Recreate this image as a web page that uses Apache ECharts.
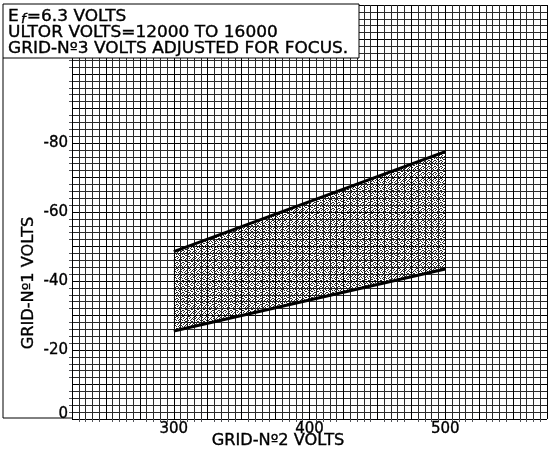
<!DOCTYPE html>
<html>
<head>
<meta charset="utf-8">
<script src="https://cdn.jsdelivr.net/npm/echarts@6/dist/echarts.min.js"></script>
<style>html,body{margin:0;padding:0;background:#fff}#c{width:550px;height:449px}</style>
</head>
<body>
<div id="c"></div>
<script>
// ---- data ----
const xTickLabels = [300, 400, 500];
const yTickLabels = [0, -20, -40, -60, -80];
const grid2Volts = [300, 500];
const upperLimit = [-48.5, -77.5];
const lowerLimit = [-25.5, -43.5];
const noteLines = ['ULTOR VOLTS=12000 TO 16000', 'GRID-Nº3 VOLTS ADJUSTED FOR FOCUS.'];
const xTitle = 'GRID-Nº2 VOLTS';
const yTitle = 'GRID-Nº1 VOLTS';

const FONT = '"DejaVu Sans", sans-serif';
const SW = 0.35;

// stipple pattern
const pat = document.createElement('canvas');
pat.width = 6; pat.height = 6;
(function(){
  const g = pat.getContext('2d');
  g.fillStyle = 'rgba(0,0,0,0.85)';
  const dots = [[0,0],[3,0],[1,1],[4,2],[2,2],[0,3],[5,3],[3,4],[1,5],[4,5],[2,4],[5,1]];
  dots.forEach(d => g.fillRect(d[0], d[1], 1, 1));
})();

const chart = echarts.init(document.getElementById('c'), null, {renderer: 'canvas'});

const axisCommon = {
  axisLine: {show: false},
  axisTick: {show: false},
  splitLine: {show: true, lineStyle: {color: '#000', width: 1}},
  minorTick: {show: true, splitNumber: 5},
  minorSplitLine: {show: true, lineStyle: {color: '#2a2a2a', width: 1}}
};

const txt = (t, x, y) => ({
  type: 'text', z: 51, x: x, y: y, scaleX: 1.13,
  style: {text: t, fontSize: 15, fontFamily: FONT, fill: '#000', stroke: '#000', lineWidth: SW, verticalAlign: 'middle'}
});

chart.setOption({
  animation: false,
  backgroundColor: '#fff',
  grid: {left: 72, right: 0, top: 5, bottom: 30, containLabel: false},
  xAxis: Object.assign({
    type: 'value', min: 225, max: 575, interval: 25,
    axisLabel: {
      margin: 3, color: '#000', fontSize: 15, fontFamily: FONT, textBorderColor: '#000', textBorderWidth: SW,
      formatter: v => xTickLabels.indexOf(v) >= 0 ? String(v) : ''
    }
  }, axisCommon),
  yAxis: Object.assign({
    type: 'value', min: -120, max: 0, interval: 10, inverse: true,
    axisLabel: {
      margin: 4, color: '#000', fontSize: 15, fontFamily: FONT, textBorderColor: '#000', textBorderWidth: SW,
      formatter: v => yTickLabels.indexOf(v) < 0 ? '' : (v === 0 ? '{z|0}' : String(v)),
      rich: {z: {fontSize: 15, fontFamily: FONT, color: '#000', textBorderColor: '#000', textBorderWidth: SW, padding: [0, 0, 10, 0]}}
    }
  }, axisCommon),
  series: [
    {
      type: 'custom',
      renderItem: function (params, api) {
        const pts = [];
        for (let i = 0; i < grid2Volts.length; i++) pts.push(api.coord([grid2Volts[i], upperLimit[i]]));
        for (let i = grid2Volts.length - 1; i >= 0; i--) pts.push(api.coord([grid2Volts[i], lowerLimit[i]]));
        return {type: 'polygon', shape: {points: pts}, style: {fill: {image: pat, repeat: 'repeat'}}};
      },
      data: [[grid2Volts[0], upperLimit[0]]],
      z: 3
    },
    {
      type: 'line', symbol: 'none', z: 5,
      data: grid2Volts.map((v, i) => [v, upperLimit[i]]),
      lineStyle: {color: '#000', width: 3}
    },
    {
      type: 'line', symbol: 'none', z: 5,
      data: grid2Volts.map((v, i) => [v, lowerLimit[i]]),
      lineStyle: {color: '#000', width: 3}
    }
  ],
  graphic: [
    {type: 'rect', z: 50, shape: {x: 3, y: 4, width: 356, height: 54}, style: {fill: '#fff', stroke: '#000', lineWidth: 1}},
    {type: 'polyline', z: 50, shape: {points: [[3, 58], [3, 418], [72, 418]]}, style: {fill: null, stroke: '#000', lineWidth: 1}},
    {type: 'text', z: 51, x: 8, y: 17, scaleX: 1.13, style: {
      text: '{a|E}{b|f}{a|=6.3 VOLTS}', verticalAlign: 'middle',
      rich: {
        a: {fontSize: 15, fontFamily: FONT, fill: '#000', stroke: '#000', lineWidth: SW},
        b: {fontSize: 12, fontStyle: 'italic', fontFamily: FONT, fill: '#000', stroke: '#000', lineWidth: SW, padding: [5, 1, 0, 2]}
      }
    }},
    txt(noteLines[0], 8, 33),
    txt(noteLines[1], 8, 49),
    {type: 'text', z: 51, x: 278, y: 441, scaleX: 1.08, style: {text: xTitle, fontSize: 15, fontFamily: FONT, fill: '#000', stroke: '#000', lineWidth: SW, align: 'center', verticalAlign: 'middle'}},
    {type: 'text', z: 51, x: 29, y: 283, rotation: Math.PI / 2, scaleX: 1.08, style: {text: yTitle, fontSize: 15, fontFamily: FONT, fill: '#000', stroke: '#000', lineWidth: SW, align: 'center', verticalAlign: 'middle'}}
  ]
});
</script>
</body>
</html>
